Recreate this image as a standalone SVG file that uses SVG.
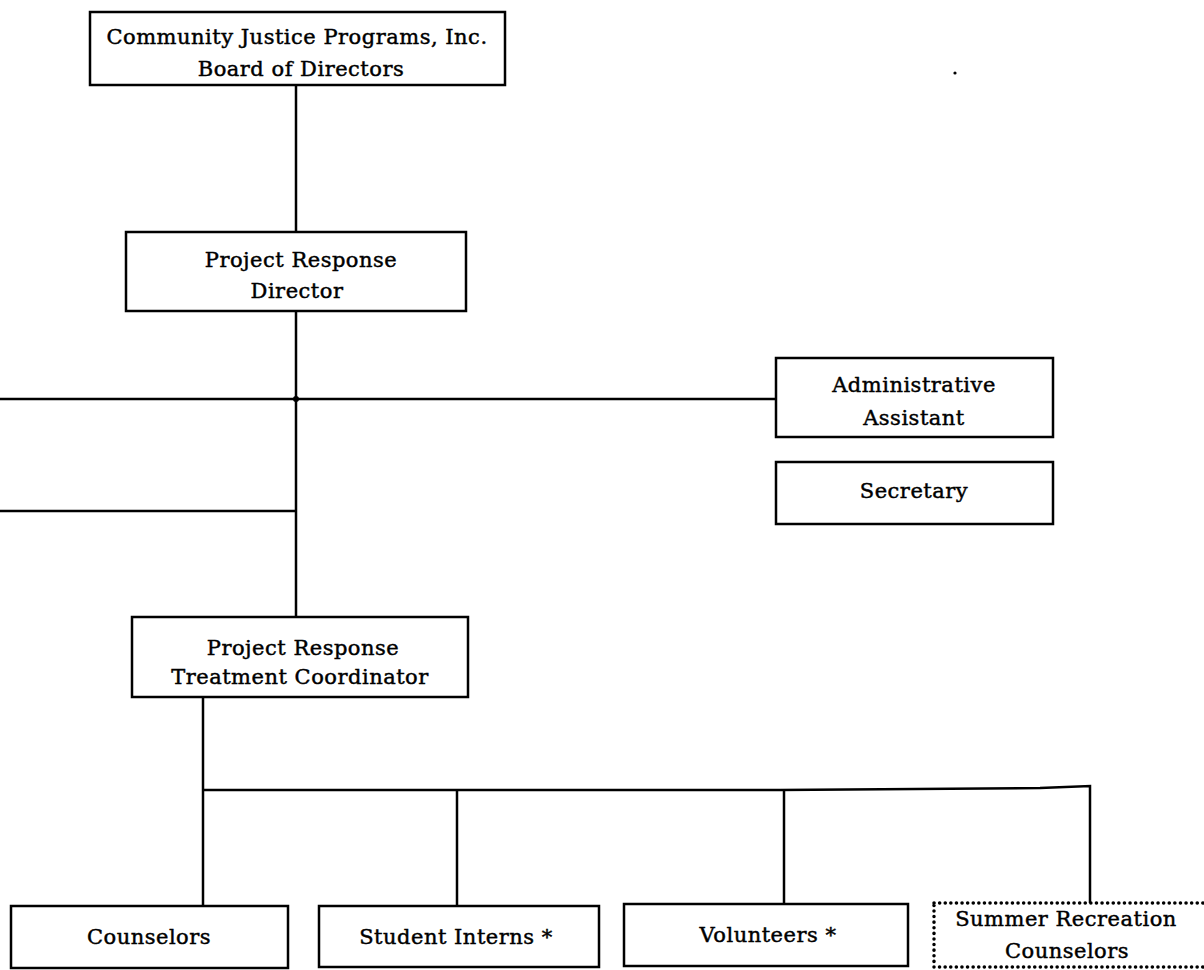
<svg xmlns="http://www.w3.org/2000/svg" width="1204" height="970" viewBox="0 0 1204 970">
<style>
.box{fill:#fff;stroke:#000;stroke-width:2.5}
.dot{fill:#fff;stroke:#000;stroke-width:3.5;stroke-dasharray:0.1 5.5;stroke-linecap:round}
.ln{fill:none;stroke:#000;stroke-width:2.5}
text{font-family:"DejaVu Serif","Liberation Serif",serif;font-size:21px;letter-spacing:0.5px;fill:#000;text-anchor:middle;stroke:#000;stroke-width:0.45}
</style>
<rect width="1204" height="970" fill="#fff"/>
<g id="connectors">
<path class="ln" d="M296 85V232"/>
<path class="ln" d="M296 311V617"/>
<path class="ln" d="M0 399H776"/>
<path class="ln" d="M0 511H296"/>
<path class="ln" d="M203 697V906"/>
<path class="ln" d="M203 790H780L1040 788L1090 786V903"/>
<path class="ln" d="M457 790V906"/>
<path class="ln" d="M784 790V904"/>
<circle cx="296" cy="399" r="3"/>
</g>
<g id="board">
<rect class="box" x="90" y="12" width="415" height="73"/>
<text x="297" y="44">Community Justice Programs, Inc.</text>
<text x="301" y="76">Board of Directors</text>
</g>
<g id="director">
<rect class="box" x="126" y="232" width="340" height="79"/>
<text x="301" y="267">Project Response</text>
<text x="297" y="298">Director</text>
</g>
<g id="admin">
<rect class="box" x="776" y="358" width="277" height="79"/>
<text x="914" y="392">Administrative</text>
<text x="914" y="425">Assistant</text>
</g>
<g id="secretary">
<rect class="box" x="776" y="462" width="277" height="62"/>
<text x="914" y="498">Secretary</text>
</g>
<g id="coordinator">
<rect class="box" x="132" y="617" width="336" height="80"/>
<text x="303" y="655">Project Response</text>
<text x="300" y="684">Treatment Coordinator</text>
</g>
<g id="counselors">
<rect class="box" x="11" y="906" width="277" height="62"/>
<text x="149" y="944">Counselors</text>
</g>
<g id="interns">
<rect class="box" x="319" y="906" width="280" height="61"/>
<text x="456" y="944">Student Interns *</text>
</g>
<g id="volunteers">
<rect class="box" x="624" y="904" width="284" height="62"/>
<text x="768" y="942">Volunteers *</text>
</g>
<g id="summer">
<rect class="dot" x="934" y="903" width="290" height="64"/>
<text x="1066" y="926">Summer Recreation</text>
<text x="1067" y="958">Counselors</text>
</g>
<circle cx="955" cy="73" r="1.6" fill="#000"/>
</svg>
